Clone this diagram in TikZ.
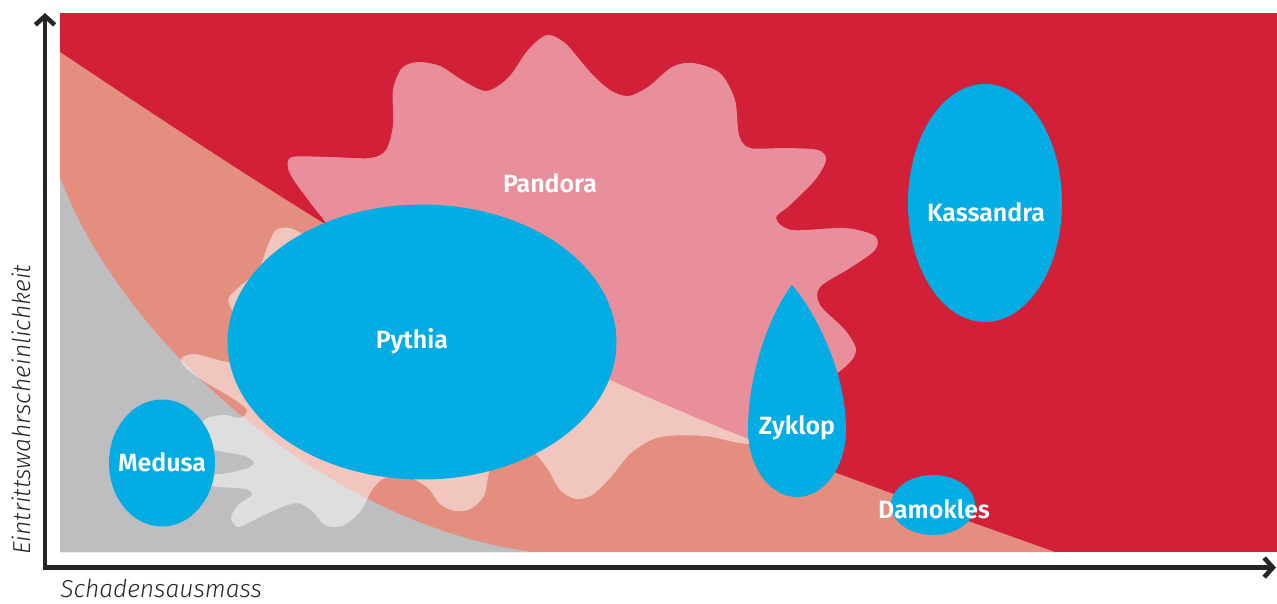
\documentclass[tikz,border=0pt]{standalone}
\usepackage{fontspec}
\setmainfont{Fira Sans}
\newfontfamily\namefont{Fira Sans SemiBold}
\newfontfamily\axisfont{Fira Sans Light Italic}
\usetikzlibrary{shapes.geometric,arrows.meta}

\definecolor{riskred}{HTML}{D32039}
\definecolor{risksalmon}{HTML}{E38E7E}
\definecolor{riskgray}{HTML}{BEBEC0}
\definecolor{riskblue}{HTML}{03ACE2}
\definecolor{axisgray}{HTML}{262626}

\tikzset{
  riskname/.style={text=white, font=\namefont\fontsize{14.2}{17}\selectfont, inner sep=0pt},
  riskzone/.style={ellipse, fill=riskblue, inner sep=0pt},
  axislabel/.style={text=axisgray, font=\axisfont\fontsize{14}{17}\selectfont, inner sep=0pt},
  axis/.style={line width=2.6pt, draw=axisgray,
    arrows={Straight Barb[length=5pt,width=11pt]-Straight Barb[length=5pt,width=11pt]}},
}

\begin{document}
\begin{tikzpicture}[x=0.02cm, y=-0.02cm]
  \useasboundingbox (0,0) rectangle (1277,603);

  % fundo e zonas de risco
  \fill[riskred] (60,13) rectangle (1277,552);
  \fill[risksalmon] (60,52) .. controls (510,353) and (605,392) .. (1055,552) -- (60,552) -- cycle;
  \fill[riskgray] (60,177) .. controls (120,340) and (325,525) .. (533,552) -- (60,552) -- cycle;

  % pandora (mancha transparente)
  \fill[white, fill opacity=0.5] plot[smooth cycle, tension=0.5] coordinates {
    (292,157) (330,157) (370,158) (386,150) (393,125) (393,90) (402,68) (418,62)
    (440,66) (462,80) (486,91) (508,78) (528,50) (547,35) (566,44) (590,72)
    (610,90) (628,96) (648,87) (672,67) (693,63) (720,73) (735,100) (739,135)
    (750,148) (785,148) (818,150) (826,160) (815,180) (790,205) (776,218)
    (792,230) (845,228) (875,236) (875,250) (850,268) (820,287) (820,305)
    (845,330) (856,350) (845,367) (800,400) (760,440) (740,443) (705,436)
    (660,437) (632,452) (610,478) (592,495) (576,499) (560,490) (547,468)
    (530,450) (505,452) (490,470) (484,496) (470,509) (455,511) (440,504)
    (428,488) (410,478) (385,478) (372,490) (360,512) (342,526) (325,525)
    (312,511) (297,503) (275,510) (252,521) (238,527) (231,518) (238,505)
    (252,495) (245,489) (220,487) (200,484) (205,476) (228,473) (248,468)
    (254,462) (245,456) (225,452) (205,447) (198,430) (207,418) (225,415)
    (240,418) (247,410) (232,398) (205,382) (187,369) (181,359) (195,354)
    (232,362) (248,345) (236,318) (228,300) (238,288) (258,270) (268,245)
    (276,230) (290,228) (305,236) (320,250) (328,228) (312,205) (295,182)
    (288,168)};
  \node[riskname] (pandora) at (550,183) {Pandora};

  % riscos em azul
  \node[riskzone, minimum width=7.78cm, minimum height=5.5cm] (pythia) at (422,342) {};
  \node[riskname] (pythiatxt) at (412,341) {Pythia};
  \node[riskzone, minimum width=2.12cm, minimum height=2.54cm] (medusa) at (162,463) {};
  \node[riskname] (medusatxt) at (162,462) {Medusa};
  \node[riskzone, minimum width=3.08cm, minimum height=4.76cm] (kassandra) at (985,203) {};
  \node[riskname] (kassandratxt) at (986,212) {Kassandra};
  \node[riskzone, minimum width=1.68cm, minimum height=1.2cm] (damokles) at (933,505) {};
  \node[riskname] (damoklestxt) at (934,509) {Damokles};
  \fill[riskblue] (792,285) .. controls (772,310) and (748,370) .. (748,430)
    arc[start angle=180, end angle=0, x radius=49, y radius=67]
    .. controls (846,370) and (814,310) .. (792,285) -- cycle;
  \node[riskname] (zyklop) at (797,428) {Zyklop};

  % eixos
  \coordinate (ytip) at (45,13);
  \coordinate (xtip) at (1276,567.5);
  \draw[axis] (ytip) |- (xtip);
  \node[axislabel, anchor=base west] (xlabel) at (60,597) {Schadensausmass};
  \node[axislabel, rotate=90, anchor=base west] (ylabel) at (31,555) {Eintrittswahrscheinlichkeit};
\end{tikzpicture}
\end{document}
